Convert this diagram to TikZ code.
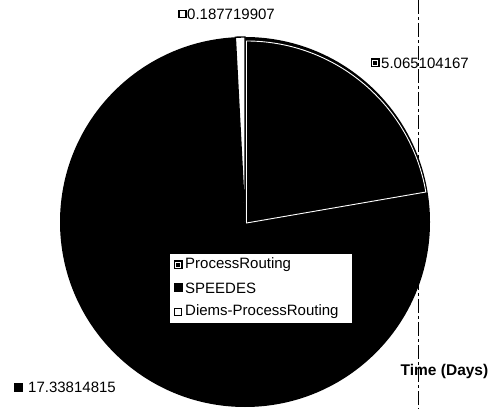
\documentclass[tikz,border=0pt]{standalone}
\usepackage{fontspec}
\setmainfont{Liberation Sans}
\usepackage{tikz}

\tikzset{
    iconwhite/.style={draw=black,fill=white,line width=1.6pt,minimum size=7pt,inner sep=0pt},
    iconblack/.style={fill=black,minimum size=9pt,inner sep=0pt},
    iconroute/.style={fill=black,minimum size=9pt,inner sep=0pt,
        path picture={\draw[white,line width=0.9pt]
            ([shift={(1.6pt,1.6pt)}]path picture bounding box.south west) rectangle
            ([shift={(-1.6pt,-1.6pt)}]path picture bounding box.north east);}},
    lbl/.style={anchor=west,inner sep=0pt,font=\fontsize{15}{18}\selectfont}
}

\begin{document}
\begin{tikzpicture}[x=1pt,y=1pt]
        \useasboundingbox[fill=white] (0,0) rectangle (494,409);

        % scanned fold line behind the pie
        \draw[line width=0.8pt,dash pattern=on 14pt off 3pt on 3pt off 3pt] (418,409) -- (418,0);

        % Pie: SPEEDES is the whole disc, other slices on top
        \coordinate (C) at (245,187);
        \fill[black] (C) circle (185);
        \filldraw[fill=white,draw=black,line width=1.4pt] (C) -- ++(90:185) arc (90:93:185) -- cycle;
        \draw[white,line width=0.9pt] ([xshift=1.5pt,yshift=-1pt]C) -- ++(90:182) arc (90:9.8:182) -- cycle;

        % Slice values
        \node[iconwhite] (Idiems)  at (182.5,395) {};
        \node[lbl] (Vdiems)  at (187,395) {0.187719907};
        \node[iconroute] (Iroute)  at (375,346) {};
        \node[lbl] (Vroute)  at (381,346) {5.065104167};
        \node[iconblack] (Ispeed)  at (18.5,22) {};
        \node[lbl] (Vspeed)  at (28,22) {17.33814815};

        % Legend
        \node (legend) at (260.5,121) [draw,fill=white,line width=0.6pt,minimum width=183pt,minimum height=70pt] {};
        \node[iconroute] (Lroute)  at (178,144) {};
        \node[lbl] (Troute)  at (185,144) {ProcessRouting};
        \node[iconblack] (Lspeed)  at (178,121) {};
        \node[lbl] (Tspeed)  at (185,121) {SPEEDES};
        \node[iconwhite] (Ldiems)  at (178,97) {};
        \node[lbl] (Tdiems)  at (185,97) {Diems-ProcessRouting};

        \node (title) at (444.5,38) [inner sep=0pt,font=\fontsize{15.5}{18}\selectfont\bfseries] {Time (Days)};
\end{tikzpicture}
\end{document}
